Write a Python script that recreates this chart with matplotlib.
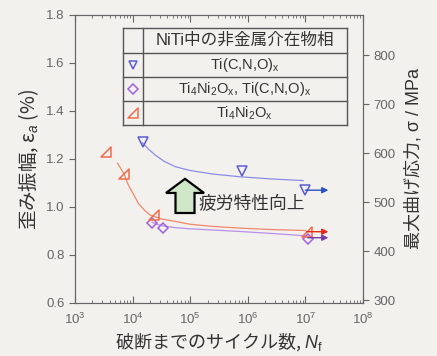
import numpy as np
import matplotlib
matplotlib.use("Agg")
import matplotlib.pyplot as plt
from matplotlib.path import Path
from matplotlib.patches import Polygon

plt.rcParams['font.family'] = ['Liberation Sans', 'Noto Sans CJK JP', 'DejaVu Sans']
plt.rcParams['mathtext.fontset'] = 'custom'
plt.rcParams['mathtext.rm'] = 'Liberation Sans'
plt.rcParams['mathtext.it'] = 'Liberation Sans:italic'

# measured points (N_f, strain amplitude %)
blue_N = [1.5e4, 7.8e5, 1.0e7]
blue_eps = [1.270, 1.148, 1.070]
purple_N = [2.2e4, 3.4e4, 1.1e7]
purple_eps = [0.935, 0.911, 0.868]
red_N = [3.4e3, 7.2e3, 2.4e4, 1.05e7]
red_eps = [1.230, 1.138, 0.965, 0.897]
runout_end = 2.5e7

# fitted curves (log10 N_f, strain)
blue_fit_logN = [4.17, 4.28, 4.39, 4.55, 4.74, 5.0, 5.4, 5.86, 6.4, 6.96]
blue_fit_eps = [1.268, 1.240, 1.217, 1.190, 1.168, 1.152, 1.137, 1.126, 1.117, 1.110]
red_fit_logN = [3.74, 3.856, 3.925, 4.0, 4.10, 4.2, 4.30, 4.50, 4.74, 5.0, 5.4, 5.86, 6.4, 7.0]
red_fit_eps = [1.182, 1.136, 1.092, 1.060, 1.015, 0.988, 0.967, 0.950, 0.940, 0.928,
               0.919, 0.912, 0.906, 0.902]
purple_fit_logN = [4.34, 4.45, 4.53, 4.74, 5.0, 5.4, 5.86, 6.4, 7.0]
purple_fit_eps = [0.936, 0.926, 0.921, 0.914, 0.909, 0.904, 0.898, 0.890, 0.880]

legend_rows = ['Ti(C,N,O)$_\\mathrm{x}$',
               'Ti$_4$Ni$_2$O$_\\mathrm{x}$, Ti(C,N,O)$_\\mathrm{x}$',
               'Ti$_4$Ni$_2$O$_\\mathrm{x}$']

bg = '#f2f1ee'
gray = '#666666'
c_blue, c_blue_l, c_blue_a = '#5b5bd6', '#8c8ce6', '#2a4fc0'
c_pur, c_pur_l, c_pur_a = '#a060e0', '#b890e8', '#7a3aa8'
c_red, c_red_l, c_red_a = '#f26b4b', '#f4866a', '#e8261a'

tri_r = Path([(-1, -1), (1, -1), (1, 1), (-1, -1)],
             [Path.MOVETO, Path.LINETO, Path.LINETO, Path.CLOSEPOLY])

fig = plt.figure(figsize=(4.37, 3.56), dpi=100, facecolor=bg)
ax = fig.add_axes([0.1716, 0.1489, 0.6591, 0.809])
ax.set_facecolor(bg)
ax.set_xscale('log')
ax.set_xlim(1e3, 1e8)
ax.set_ylim(0.6, 1.8)

ax.plot(10 ** np.array(blue_fit_logN), blue_fit_eps, color=c_blue_l, lw=0.9)
ax.plot(10 ** np.array(red_fit_logN), red_fit_eps, color=c_red_l, lw=0.9)
ax.plot(10 ** np.array(purple_fit_logN), purple_fit_eps, color=c_pur_l, lw=0.9)

ax.plot(blue_N, blue_eps, ls='none', marker='v', ms=6.5, mfc='none', mec=c_blue, mew=1.1)
ax.plot(purple_N, purple_eps, ls='none', marker='D', ms=5, mfc='none', mec=c_pur, mew=1.1)
ax.plot(red_N, red_eps, ls='none', marker=tri_r, ms=7.5, mfc='none', mec=c_red, mew=1.1)

for n, e, c in [(blue_N[-1], blue_eps[-1], c_blue_a),
                (red_N[-1], red_eps[-1], c_red_a),
                (purple_N[-1], purple_eps[-1] + 0.004, c_pur_a)]:
    ax.annotate('', xy=(runout_end, e), xytext=(n, e),
                arrowprops=dict(arrowstyle='-|>', color=c, lw=1.0,
                                mutation_scale=9, shrinkA=0, shrinkB=0))

# big arrow
arr = Polygon([(0.349, 0.3125), (0.415, 0.3125), (0.415, 0.382), (0.448, 0.382),
               (0.382, 0.431), (0.316, 0.382), (0.349, 0.382)], closed=True,
              transform=ax.transAxes, facecolor='#cfe6c8', edgecolor='black', lw=1.6)
ax.add_patch(arr)
ax.text(0.427, 0.345, '疲労特性向上', transform=ax.transAxes, fontsize=12.8,
        va='center', ha='left', color='#333333', family=['Noto Sans CJK JP'])

# legend table
x0, x1, xc = 0.1667, 0.944, 0.236
ys = [0.955, 0.868, 0.785, 0.701, 0.618]
lk = dict(transform=ax.transAxes, color='#555555', lw=1.0)
for y in ys:
    ax.plot([x0, x1], [y, y], **lk)
for x in (x0, xc, x1):
    ax.plot([x, x], [ys[0], ys[-1]], **lk)
tx = (xc + x1) / 2
ax.text(tx, (ys[0] + ys[1]) / 2, 'NiTi中の非金属介在物相', transform=ax.transAxes,
        ha='center', va='center', fontsize=12, color='#333333')
for i, s in enumerate(legend_rows):
    ax.text(tx, (ys[i + 1] + ys[i + 2]) / 2, s, transform=ax.transAxes,
            ha='center', va='center', fontsize=10.5, color='#333333')
mx = (x0 + xc) / 2
ax.plot([mx], [(ys[1] + ys[2]) / 2], transform=ax.transAxes, marker='v', ms=6,
        mfc='none', mec=c_blue, mew=1.1)
ax.plot([mx], [(ys[2] + ys[3]) / 2], transform=ax.transAxes, marker='D', ms=5,
        mfc='none', mec=c_pur, mew=1.1)
ax.plot([mx], [(ys[3] + ys[4]) / 2], transform=ax.transAxes, marker=tri_r, ms=7,
        mfc='none', mec=c_red, mew=1.1)

# axes styling
ax.set_yticks(np.arange(0.6, 1.81, 0.2))
ax.set_yticklabels(['%.1f' % v for v in np.arange(0.6, 1.81, 0.2)])
ax.tick_params(axis='y', which='both', direction='out', length=4, color=gray,
               labelcolor=gray, labelsize=9.5, right=False)
ax.tick_params(axis='x', which='major', direction='in', length=5, top=True,
               color=gray, labelcolor=gray, labelsize=9.5, pad=6)
ax.tick_params(axis='x', which='minor', direction='in', length=2.5, top=True, color=gray)
for s in ax.spines.values():
    s.set_color(gray)

jp = 'Noto Sans CJK JP'
ax.set_xlabel('破断までのサイクル数, $N_\\mathrm{f}$', fontsize=13, color='#333333',
              labelpad=3, family=jp)
ax.set_ylabel('歪み振幅, ε$_a$ (%)', fontsize=14, color='#333333', labelpad=4, family=jp)

ax2 = ax.twinx()
ax2.set_ylim(294, 882)
ax2.set_yticks([300, 400, 500, 600, 700, 800])
ax2.tick_params(axis='y', direction='out', length=4, color=gray, labelcolor=gray,
                labelsize=9.5)
for s in ax2.spines.values():
    s.set_color(gray)
ax2.set_ylabel('最大曲げ応力, σ / MPa', fontsize=13, color='#333333', labelpad=7)

fig.savefig('out.png', dpi=100, facecolor=bg)
